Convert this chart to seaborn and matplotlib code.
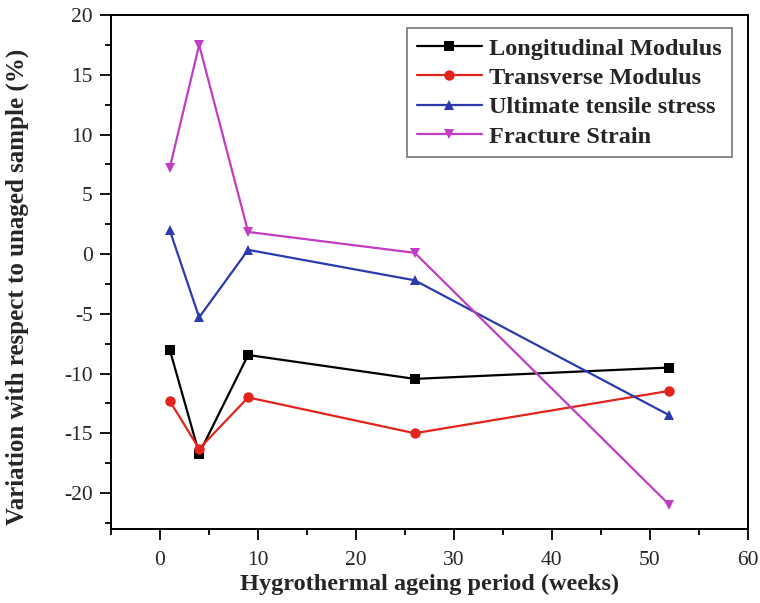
import matplotlib
matplotlib.use("Agg")
import matplotlib.pyplot as plt
import seaborn as sns
import pandas as pd
from matplotlib.ticker import MultipleLocator

weeks = [1, 4, 9, 26, 52]
longitudinal = [-8.0, -16.7, -8.45, -10.45, -9.5]
transverse = [-12.3, -16.3, -12.0, -15.0, -11.45]
ultimate = [2.0, -5.3, 0.35, -2.2, -13.5]
fracture = [7.2, 17.5, 1.85, 0.1, -21.0]

names = ["Longitudinal Modulus", "Transverse Modulus", "Ultimate tensile stress", "Fracture Strain"]
series = [longitudinal, transverse, ultimate, fracture]
colors = ["#000000", "#e3241d", "#2b3aae", "#c23cc4"]
marks = ["s", "o", "^", "v"]

rows = []
for n, s in zip(names, series):
    for w, v in zip(weeks, s):
        rows.append({"week": w, "value": v, "series": n})
df = pd.DataFrame(rows)

sns.set_style("ticks")
plt.rcParams["font.family"] = ["Liberation Serif", "DejaVu Serif"]
plt.rcParams["axes.unicode_minus"] = False

fig = plt.figure(figsize=(7.6, 6.03), dpi=100)
ax = fig.add_axes([0.146, 0.123, 0.838, 0.852])

sns.lineplot(data=df, x="week", y="value", hue="series", style="series",
             hue_order=names, style_order=names,
             palette=dict(zip(names, colors)),
             markers=dict(zip(names, marks)), dashes=False,
             markersize=7.5, linewidth=1.6, markeredgewidth=0, ax=ax)

ax.set_xlim(-5, 60)
ax.set_ylim(-23, 20)
ax.xaxis.set_major_locator(MultipleLocator(10))
ax.xaxis.set_minor_locator(MultipleLocator(5))
ax.yaxis.set_major_locator(MultipleLocator(5))
ax.yaxis.set_minor_locator(MultipleLocator(2.5))
ax.tick_params(which="major", direction="out", length=8, width=1.3, labelsize=15.5, color="black", pad=5)
ax.tick_params(which="minor", direction="out", length=4.5, width=1.3, color="black")
ax.tick_params(axis="x", which="major", pad=8)
for sp in ax.spines.values():
    sp.set_linewidth(1.4)
    sp.set_color("black")

ax.set_xlabel("Hygrothermal ageing period (weeks)", fontsize=17.5, fontweight="bold", labelpad=3)
ax.set_ylabel("Variation with respect to unaged sample (%)", fontsize=18, fontweight="bold")
ax.yaxis.set_label_coords(-0.128, 0.471)

handles, labels = ax.get_legend_handles_labels()
leg = ax.legend(handles, labels, loc="upper right", bbox_to_anchor=(0.975, 0.975),
                prop={"weight": "bold", "size": 17.5, "family": "Liberation Serif"},
                frameon=True, fancybox=False, edgecolor="#555555", handlelength=2.7,
                borderpad=0.4, labelspacing=0.3, handletextpad=0.3, borderaxespad=0.0)
leg.get_frame().set_linewidth(1.2)

fig.savefig("out.png", dpi=100)
